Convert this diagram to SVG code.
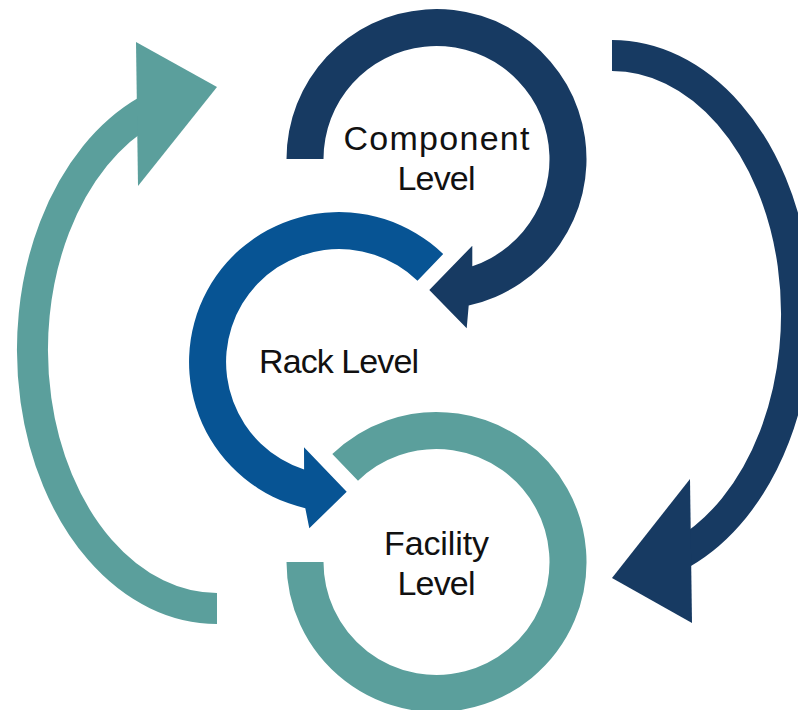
<svg xmlns="http://www.w3.org/2000/svg" width="798" height="710" viewBox="0 0 798 710">
  <style>
    .lbl { font-family: "Liberation Sans", Arial, sans-serif; font-size: 34px; fill: #111111; text-anchor: middle; }
    .navy { fill: #173a62; }
    .blue { fill: #075494; }
    .teal { fill: #5b9f9c; }
  </style>
  <rect width="798" height="710" fill="#ffffff"/>
  <g id="connectors">
    <g id="left-cycle">
      <path d="M 217 608.5 A 184.5 258.5 0 0 1 147 110.8" fill="none" stroke="#5b9f9c" stroke-width="31"/>
      <polygon class="teal" points="136,42 217,87 138,186"/>
    </g>
    <g id="right-cycle">
      <path d="M 612 55.5 A 184.5 258.5 0 0 1 682 553.2" fill="none" stroke="#173a62" stroke-width="31"/>
      <polygon class="navy" points="692,623 612,578 690,479"/>
    </g>
  </g>
  <g id="component">
    <path class="navy" d="M 286.5 159 A 150 150 0 1 1 468.7 305.5 L 466.7 328.3 L 429.3 290 L 472.3 245.7 L 472.3 266.2 A 113 113 0 1 0 323.5 159 Z"/>
    <text class="lbl" x="436.5" y="150" textLength="186">Component</text>
    <text class="lbl" x="436.5" y="190" textLength="78">Level</text>
  </g>
  <g id="rack">
    <path class="blue" d="M 443.2 254.1 A 150 150 0 1 0 305.3 508.2 L 309.3 528.3 L 346.7 491.7 L 304 447.3 L 304.1 469.5 A 113 113 0 1 1 417.5 280.7 Z"/>
    <text class="lbl" x="339" y="373" textLength="160">Rack Level</text>
  </g>
  <g id="facility">
    <path d="M 345.15 467.41 A 131.5 131.5 0 1 1 305 562" fill="none" stroke="#5b9f9c" stroke-width="37"/>
    <text class="lbl" x="436.5" y="555" textLength="105">Facility</text>
    <text class="lbl" x="436.5" y="595" textLength="78">Level</text>
  </g>
</svg>
